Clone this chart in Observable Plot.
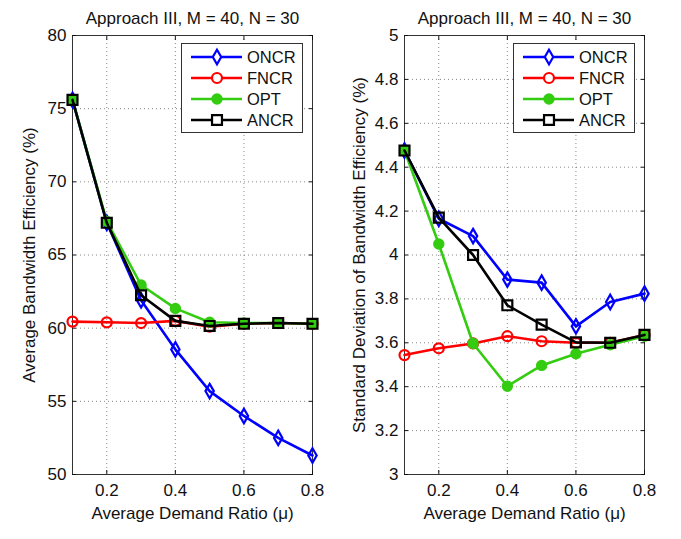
<!DOCTYPE html>
<html>
<head>
<meta charset="utf-8">
<script src="https://cdn.jsdelivr.net/npm/d3@7"></script>
<script src="https://cdn.jsdelivr.net/npm/@observablehq/plot@0.6"></script>
<style>
  html, body { margin: 0; padding: 0; background: #fff; }
  #wrap { position: relative; width: 681px; height: 539px; background: #fff; overflow: hidden; font-family: "Liberation Sans", Arial, sans-serif; }
  .panel { position: absolute; top: 0; }
  .panel text { font-size: 17px !important; fill: #111; }
  .legend { position: absolute; }
</style>
</head>
<body>
<div id="wrap"></div>
<script>
// ---- data ----
const mu = [0.1, 0.2, 0.3, 0.4, 0.5, 0.6, 0.7, 0.8];
const seriesNames = ["ONCR", "FNCR", "OPT", "ANCR"];
const seriesColors = ["#0000ff", "#ff0000", "#33cc11", "#000000"];
const seriesSymbols = ["diamond", "circle", "circle", "square"];
const seriesFilled = [false, false, true, false];

const effONCR = [75.6, 67.2, 61.9, 58.55, 55.7, 54.0, 52.5, 51.3];
const effFNCR = [60.45, 60.4, 60.35, 60.5, 60.1, 60.3, 60.35, 60.3];
const effOPT  = [75.6, 67.3, 62.95, 61.35, 60.4, 60.35, 60.35, 60.3];
const effANCR = [75.6, 67.2, 62.25, 60.5, 60.15, 60.3, 60.35, 60.3];

const sdONCR = [4.476, 4.165, 4.086, 3.888, 3.874, 3.675, 3.786, 3.824];
const sdFNCR = [3.544, 3.575, 3.597, 3.63, 3.607, 3.6, 3.6, 3.635];
const sdOPT  = [4.476, 4.05, 3.597, 3.402, 3.497, 3.55, 3.591, 3.63];
const sdANCR = [4.476, 4.17, 4.0, 3.771, 3.683, 3.602, 3.6, 3.636];

const xTicks = [0.2, 0.4, 0.6, 0.8];
const effTicks = [50, 55, 60, 65, 70, 75, 80];
const sdTicks = [3, 3.2, 3.4, 3.6, 3.8, 4, 4.2, 4.4, 4.6, 4.8, 5];

const titleText = "Approach III, M = 40, N = 30";
const xLabel = "Average Demand Ratio (\u03bc)";
const effLabel = "Average Bandwidth Efficiency (%)";
const sdLabel = "Standard Deviation of Bandwidth Efficiency (%)";

function rows(arrays) {
  const out = [];
  arrays.forEach((arr, s) => arr.forEach((v, i) => out.push({mu: mu[i], v, s: seriesNames[s], si: s})));
  return out;
}

const FONT = "Liberation Sans, Arial, sans-serif";
const symR = {diamond: 4.4, square: 5.6, circle: 5};
const symRFilled = 4.6;

function panel({data, yDomain, yTicks, yLabel, width, mLeft, mRight, fmt, yLabelOffset}) {
  const marks = [
    Plot.gridX(xTicks, {stroke: "#555", strokeOpacity: 0.7, strokeDasharray: "1,3"}),
    Plot.gridY(yTicks, {stroke: "#555", strokeOpacity: 0.7, strokeDasharray: "1,3"}),
    Plot.frame({stroke: "#333", strokeWidth: 1}),
    Plot.axisX({ticks: xTicks, tickSize: 0, tickPadding: 9, label: xLabel, labelAnchor: "center", labelArrow: "none", labelOffset: 44, tickFormat: d => String(d)}),
    Plot.axisX({ticks: xTicks, anchor: "bottom", tickSize: -4, tickFormat: () => "", label: null}),
    Plot.axisX({ticks: xTicks, anchor: "top", tickSize: -4, tickFormat: () => "", label: null}),
    Plot.axisY({ticks: yTicks, tickSize: 0, tickPadding: 6, label: yLabel, labelAnchor: "center", labelArrow: "none", labelOffset: yLabelOffset, tickFormat: fmt}),
    Plot.axisY({ticks: yTicks, anchor: "left", tickSize: -4, tickFormat: () => "", label: null}),
    Plot.axisY({ticks: yTicks, anchor: "right", tickSize: -4, tickFormat: () => "", label: null}),
    Plot.text([titleText], {frameAnchor: "top", lineAnchor: "bottom", dy: -12, fill: "#111"})
  ];
  seriesNames.forEach((name, si) => {
    const d = data.filter(r => r.si === si);
    marks.push(Plot.line(d, {x: "mu", y: "v", stroke: seriesColors[si], strokeWidth: 2.6}));
    marks.push(Plot.dot(d, {
      x: "mu", y: "v", symbol: () => seriesSymbols[si],
      r: seriesFilled[si] ? symRFilled : symR[seriesSymbols[si]],
      stroke: seriesColors[si], strokeWidth: 2.2,
      fill: seriesFilled[si] ? seriesColors[si] : "none"
    }));
  });
  return Plot.plot({
    width, height: 539,
    marginLeft: mLeft, marginRight: mRight, marginTop: 35, marginBottom: 65,
    style: {fontFamily: FONT, fontSize: "17px", color: "#111", background: "#fff"},
    x: {domain: [0.1, 0.8]},
    y: {domain: yDomain},
    symbol: {type: "identity"},
    marks
  });
}

function legend(left) {
  const w = 122, h = 90;
  const svg = d3.create("svg").attr("width", w).attr("height", h).attr("class", "legend")
    .style("left", left + "px").style("top", "43px");
  svg.append("rect").attr("x", 0.5).attr("y", 0.5).attr("width", w - 1).attr("height", h - 1)
    .attr("fill", "#fff").attr("stroke", "#333");
  seriesNames.forEach((name, i) => {
    const cy = 14 + i * 21;
    const g = svg.append("g");
    g.append("line").attr("x1", 10).attr("x2", 61).attr("y1", cy).attr("y2", cy)
      .attr("stroke", seriesColors[i]).attr("stroke-width", 2.6);
    const sym = seriesSymbols[i] === "diamond" ? d3.symbolDiamond : seriesSymbols[i] === "square" ? d3.symbolSquare : d3.symbolCircle;
    const r = seriesFilled[i] ? symRFilled : symR[seriesSymbols[i]];
    g.append("path").attr("d", d3.symbol(sym, Math.PI * r * r)())
      .attr("transform", `translate(36,${cy})`)
      .attr("fill", seriesFilled[i] ? seriesColors[i] : "#fff")
      .attr("stroke", seriesColors[i]).attr("stroke-width", 2.2);
    g.append("text").attr("x", 66).attr("y", cy).attr("dy", "0.36em")
      .attr("font-family", FONT).attr("font-size", 16.5).attr("fill", "#111").text(name);
  });
  return svg.node();
}

const wrap = document.getElementById("wrap");
const left = panel({data: rows([effONCR, effFNCR, effOPT, effANCR]), yDomain: [50, 80], yTicks: effTicks,
  yLabel: effLabel, width: 340, mLeft: 72, mRight: 28, fmt: d => String(d), yLabelOffset: 50});
left.classList.add("panel"); left.style.left = "0px";
const right = panel({data: rows([sdONCR, sdFNCR, sdOPT, sdANCR]), yDomain: [3, 5], yTicks: sdTicks,
  yLabel: sdLabel, width: 341, mLeft: 64, mRight: 37, fmt: d => String(+d.toFixed(1)), yLabelOffset: 52});
right.classList.add("panel"); right.style.left = "340px";
wrap.appendChild(left);
wrap.appendChild(right);
wrap.appendChild(legend(181));
wrap.appendChild(legend(513));
</script>
</body>
</html>
